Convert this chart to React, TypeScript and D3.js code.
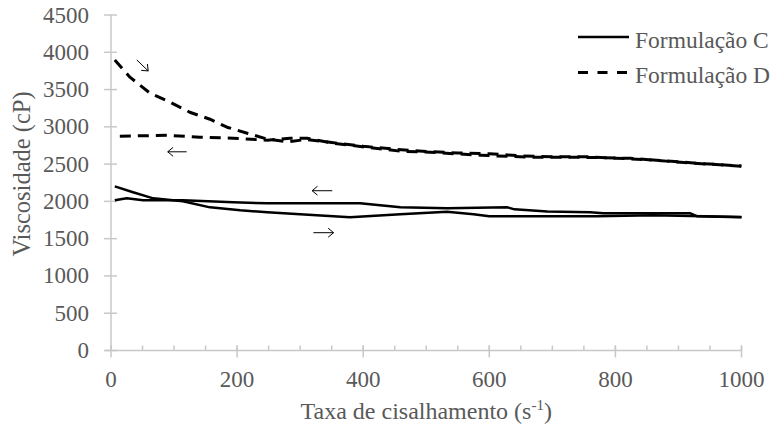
import React from "react";
import * as d3 from "d3";

const W = 775;
const H = 427;

// Formulação C (solid) – increasing shear (→) and decreasing shear (←)
const cUpX = [6, 35, 67, 114, 157, 205, 248, 300, 379, 459, 533, 575, 600, 770, 860, 1000];
const cUpY = [2202, 2122, 2041, 2001, 1920, 1880, 1853, 1826, 1786, 1826, 1860, 1826, 1800, 1800, 1813, 1790];
const cDownX = [6, 25, 51, 114, 194, 248, 395, 459, 533, 629, 640, 692, 760, 781, 919, 930, 1000];
const cDownY = [2015, 2041, 2015, 2015, 1988, 1974, 1974, 1920, 1907, 1920, 1893, 1866, 1853, 1840, 1840, 1800, 1786];

// Formulação D (dashed)
const dUpX = [6, 30, 62, 94, 125, 157, 184, 216, 248, 280, 310, 350, 400, 450, 500, 550, 600, 650, 700, 750, 800, 850, 900, 950, 1000];
const dUpY = [3895, 3666, 3451, 3330, 3196, 3102, 2995, 2914, 2834, 2800, 2830, 2790, 2740, 2700, 2670, 2650, 2640, 2610, 2600, 2600, 2580, 2560, 2530, 2500, 2475];
const dDownX = [14, 50, 89, 141, 194, 248, 284, 311, 352, 406, 459, 506, 586, 665, 744, 824, 903, 1000];
const dDownY = [2874, 2880, 2887, 2861, 2847, 2820, 2847, 2847, 2780, 2726, 2673, 2659, 2619, 2592, 2592, 2578, 2525, 2471];

const xTicks = [0, 200, 400, 600, 800, 1000];
const xMinorTicks = d3.range(0, 1001, 50);
const yTicks = [0, 500, 1000, 1500, 2000, 2500, 3000, 3500, 4000, 4500];

const legendLabels = ["Formulação C", "Formulação D"];
const xTitle = "Taxa de cisalhamento (s";
const yTitle = "Viscosidade (cP)";

// arrows annotations: [x1, y1, x2, y2] in data units (tail -> head)
const arrowsData: [number, number, number, number][] = [
  [41, 3897, 59, 3750],
  [120, 2665, 90, 2665],
  [351, 2143, 319, 2143],
  [321, 1580, 353, 1580],
];

const FONT = "'Times New Roman', 'Liberation Serif', 'DejaVu Serif', serif";
const TEXT = "#595959";
const AXIS = "#c8c8c8";
const ts = { fontFamily: FONT };

export default function App() {
  const x = d3.scaleLinear().domain([0, 1000]).range([111, 741.5]);
  const y = d3.scaleLinear().domain([0, 4500]).range([350.5, 15]);

  const line = d3
    .line<[number, number]>()
    .x((d) => x(d[0]))
    .y((d) => y(d[1]));

  const zip = (a: number[], b: number[]) => a.map((v, i) => [v, b[i]] as [number, number]);

  const series = [
    { d: zip(cUpX, cUpY), dash: null },
    { d: zip(cDownX, cDownY), dash: null },
    { d: zip(dUpX, dUpY), dash: "11,7" },
    { d: zip(dDownX, dDownY), dash: "11,7" },
  ];

  const arrowPath = (a: [number, number, number, number]) => {
    const x1 = x(a[0]), y1 = y(a[1]), x2 = x(a[2]), y2 = y(a[3]);
    const ang = Math.atan2(y2 - y1, x2 - x1);
    const h = 7;
    const a1 = ang + Math.PI * 0.78;
    const a2 = ang - Math.PI * 0.78;
    return `M${x1},${y1}L${x2},${y2}M${x2 + h * Math.cos(a1)},${y2 + h * Math.sin(a1)}L${x2},${y2}L${x2 + h * Math.cos(a2)},${y2 + h * Math.sin(a2)}`;
  };

  return (
    <svg
      width={W}
      height={H}
      style={{ position: "absolute", left: 0, top: 0, background: "#fff", fontFamily: FONT }}
    >
      <rect width={W} height={H} fill="#fff" />
      {/* axes */}
      <line x1={x(0)} x2={x(0)} y1={y(4500)} y2={y(0)} stroke={AXIS} strokeWidth={1.5} />
      <line x1={x(0) - 6} x2={x(1000)} y1={y(0)} y2={y(0)} stroke={AXIS} strokeWidth={1.5} />
      {yTicks.map((t) => (
        <g key={"y" + t}>
          <line x1={x(0) - 7} x2={x(0) + 6} y1={y(t)} y2={y(t)} stroke={AXIS} strokeWidth={1.5} />
          <text x={89} y={y(t) + 7.5} textAnchor="end" fontSize={23} fill={TEXT} style={ts}>
            {t}
          </text>
        </g>
      ))}
      {xMinorTicks.map((t) => (
        <line key={"m" + t} x1={x(t)} x2={x(t)} y1={y(0) - 5} y2={y(0)} stroke={AXIS} strokeWidth={1.5} />
      ))}
      {xTicks.map((t) => (
        <g key={"x" + t}>
          <line x1={x(t)} x2={x(t)} y1={y(0) - 5} y2={y(0) + 7} stroke={AXIS} strokeWidth={1.5} />
          <text x={x(t)} y={387} textAnchor="middle" fontSize={23} fill={TEXT} style={ts}>
            {t}
          </text>
        </g>
      ))}
      {/* titles */}
      <text x={(x(0) + x(1000)) / 2} y={419} textAnchor="middle" fontSize={24} fill={TEXT} style={ts}>
        {xTitle}
        <tspan fontSize={15} dy={-9}>-1</tspan>
        <tspan dy={9}>)</tspan>
      </text>
      <text
        transform={`translate(30,174) rotate(-90)`}
        textAnchor="middle"
        fontSize={24.5}
        fill={TEXT}
        style={ts}
      >
        {yTitle}
      </text>
      {/* series */}
      {series.map((s, i) => (
        <path
          key={i}
          d={line(s.d) || ""}
          fill="none"
          stroke="#000"
          strokeWidth={s.dash ? 3 : 2.5}
          strokeDasharray={s.dash || undefined}
          strokeLinejoin="round"
        />
      ))}
      {/* arrows */}
      {arrowsData.map((a, i) => (
        <path key={"a" + i} d={arrowPath(a)} fill="none" stroke="#000" strokeWidth={1} />
      ))}
      {/* legend */}
      <line x1={578} x2={629} y1={37} y2={37} stroke="#000" strokeWidth={2.5} />
      <text x={635} y={48} fontSize={23.5} fill={TEXT} style={ts}>
        {legendLabels[0]}
      </text>
      <line x1={578} x2={629} y1={72.5} y2={72.5} stroke="#000" strokeWidth={3} strokeDasharray="10,9.5" />
      <text x={635} y={83} fontSize={23.5} fill={TEXT} style={ts}>
        {legendLabels[1]}
      </text>
    </svg>
  );
}
